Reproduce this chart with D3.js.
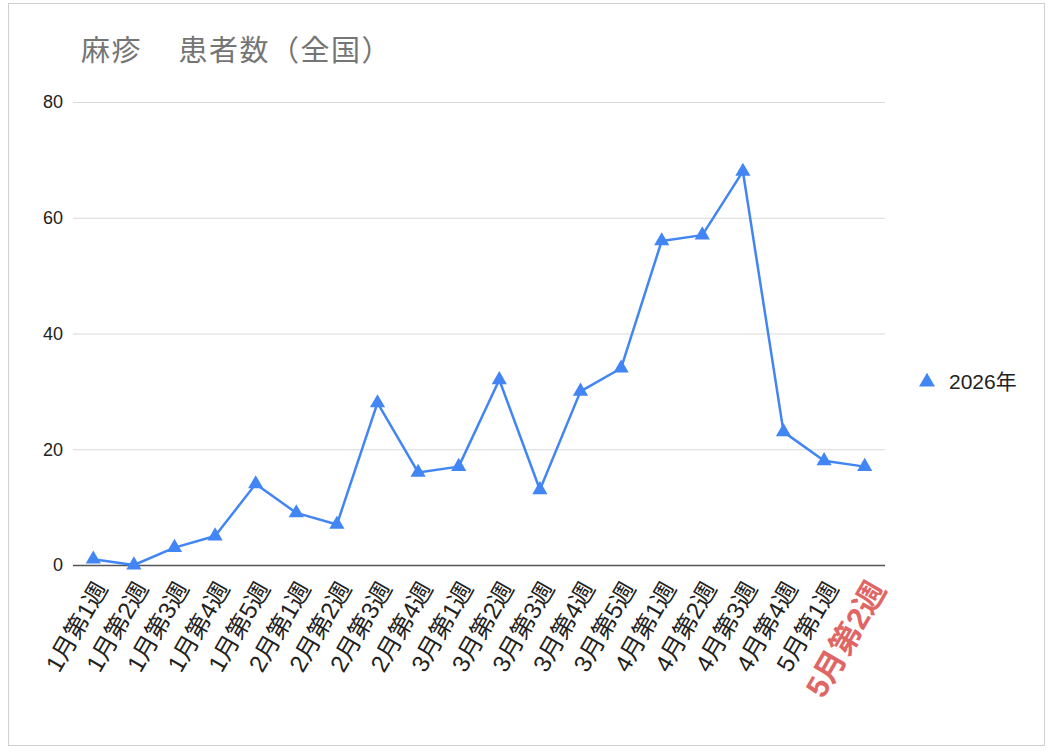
<!DOCTYPE html>
<html>
<head>
<meta charset="utf-8">
<script src="https://cdn.jsdelivr.net/npm/d3@7"></script>
<style>
    body { margin: 0; background: #fff; }
    text { font-family: "Liberation Sans", "Noto Sans CJK JP", sans-serif; }
</style>
</head>
<body>
<div id="chart"></div>
<script>
const weeks = [
    '1月第1週', '1月第2週', '1月第3週', '1月第4週', '1月第5週',
    '2月第1週', '2月第2週', '2月第3週', '2月第4週',
    '3月第1週', '3月第2週', '3月第3週', '3月第4週', '3月第5週',
    '4月第1週', '4月第2週', '4月第3週', '4月第4週',
    '5月第1週', '5月第2週'
];
const cases2026 = [1, 0, 3, 5, 14, 9, 7, 28, 16, 17, 32, 13, 30, 34, 56, 57, 68, 23, 18, 17];
const yTicks = [0, 20, 40, 60, 80];
const seriesName = '2026年';
const titleParts = ['麻疹', '患者数（全国）'];

const width = 1050,
    height = 754,
    margins = { left: 73, top: 102, right: 165, bottom: 189 };

const svg = d3.select('#chart').append('svg')
    .attr('width', width)
    .attr('height', height);

// frame
svg.append('rect')
    .attr('x', 8.5).attr('y', 3.5)
    .attr('width', 1036).attr('height', 742)
    .attr('fill', '#fff')
    .attr('stroke', '#d0d0d0');

const title = svg.append('text')
    .attr('x', 81).attr('y', 61)
    .attr('fill', '#757575')
    .style('font-family', '"Noto Sans CJK JP", sans-serif')
    .style('font-size', '29px')
    .style('letter-spacing', '1.5px');
title.append('tspan').text(titleParts[0] + '　');
title.append('tspan').attr('dx', 6).text(titleParts[1]);

const innerW = width - margins.left - margins.right,
    innerH = height - margins.top - margins.bottom;

const x = d3.scaleBand().domain(weeks).range([margins.left, margins.left + innerW]);
const y = d3.scaleLinear().domain([0, 80]).range([margins.top + innerH, margins.top]);

// grid
const grid = svg.append('g');
grid.selectAll('line')
    .data(yTicks)
    .join('line')
    .attr('x1', margins.left).attr('x2', margins.left + innerW)
    .attr('y1', d => y(d) + 0.5).attr('y2', d => y(d) + 0.5)
    .attr('stroke', d => d === 0 ? '#555' : '#d9d9d9')
    .attr('stroke-width', d => d === 0 ? 1.5 : 1);

// y axis labels
const axisY = d3.axisLeft(y).tickValues(yTicks).tickSize(0).tickPadding(10);
svg.append('g')
    .attr('transform', 'translate(' + margins.left + ', 0)')
    .call(axisY)
    .call(g => g.select('.domain').remove())
    .selectAll('text')
    .style('font-size', '18px')
    .attr('fill', '#222');

// x axis labels
const axisX = d3.axisBottom(x).tickSize(0).tickPadding(0);
const gx = svg.append('g')
    .attr('transform', 'translate(0, ' + (margins.top + innerH) + ')')
    .call(axisX);
gx.select('.domain').remove();
gx.selectAll('.tick text')
    .attr('text-anchor', 'end')
    .attr('transform', 'translate(8, 19) rotate(-60)')
    .attr('dy', '0.35em')
    .attr('fill', '#222')
    .style('font-size', '24px');

const last = weeks[weeks.length - 1];
gx.selectAll('.tick')
    .filter(d => d === last)
    .select('text')
    .attr('fill', '#e06666')
    .attr('transform', 'translate(13, 19) rotate(-60)')
    .style('font-weight', 'bold')
    .style('font-size', '31px');

// line
const line = d3.line()
    .x((d, i) => x(weeks[i]) + x.bandwidth() / 2)
    .y(d => y(d));

svg.append('path')
    .datum(cases2026)
    .attr('fill', 'none')
    .attr('stroke', '#4285f4')
    .attr('stroke-width', 2.5)
    .attr('stroke-linejoin', 'round')
    .attr('d', line);

const tri = d3.symbol().type(d3.symbolTriangle).size(100);
svg.append('g')
    .selectAll('path')
    .data(cases2026)
    .join('path')
    .attr('transform', (d, i) => 'translate(' + (x(weeks[i]) + x.bandwidth() / 2) + ', ' + y(d) + ')')
    .attr('fill', '#4285f4')
    .attr('d', tri);

// legend
const legend = svg.append('g').attr('transform', 'translate(927, 382)');
legend.append('path')
    .attr('d', d3.symbol().type(d3.symbolTriangle).size(110))
    .attr('fill', '#4285f4');
legend.append('text')
    .attr('x', 22).attr('y', 7)
    .attr('fill', '#222')
    .style('font-size', '21px')
    .text(seriesName);
</script>
</body>
</html>
